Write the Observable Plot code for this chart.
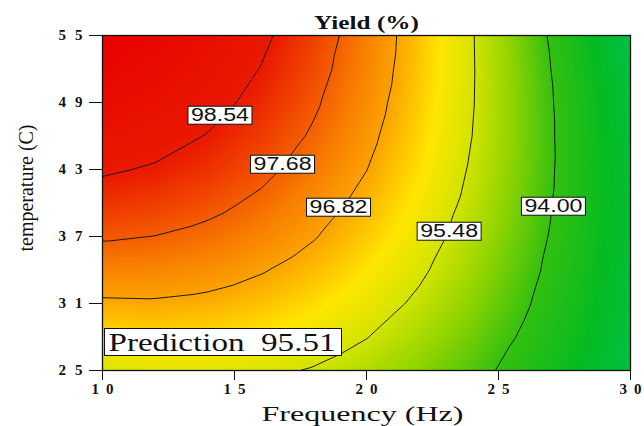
<!DOCTYPE html>
<html><head><meta charset="utf-8">
<script src="https://cdn.jsdelivr.net/npm/d3@7"></script>
<script src="https://cdn.jsdelivr.net/npm/@observablehq/plot@0.6"></script>
<style>
html,body{margin:0;padding:0;background:#fff;overflow:hidden;}
</style>
</head><body>
<script>
const title = "Yield (%)";
const xLabel = "Frequency (Hz)";
const yLabel = "temperature (C)";
const frequency = [10, 12, 14, 16, 18, 20, 22, 24, 26, 28, 30];
const temperature = [25, 28, 31, 34, 37, 40, 43, 46, 49, 52, 55];
const yieldT25 = [95.59, 95.70, 95.71, 95.62, 95.43, 95.14, 94.75, 94.26, 93.67, 92.98, 92.19];
const yieldT28 = [96.18, 96.24, 96.20, 96.07, 95.83, 95.50, 95.06, 94.53, 93.89, 93.16, 92.32];
const yieldT31 = [96.73, 96.75, 96.67, 96.49, 96.21, 95.83, 95.35, 94.77, 94.09, 93.31, 92.43];
const yieldT34 = [97.25, 97.22, 97.10, 96.87, 96.55, 96.12, 95.60, 94.97, 94.25, 93.42, 92.49];
const yieldT37 = [97.75, 97.67, 97.50, 97.23, 96.86, 96.39, 95.82, 95.15, 94.38, 93.51, 92.54];
const yieldT40 = [98.20, 98.08, 97.87, 97.55, 97.14, 96.62, 96.00, 95.29, 94.47, 93.56, 92.54];
const yieldT43 = [98.63, 98.47, 98.21, 97.85, 97.39, 96.83, 96.16, 95.40, 94.54, 93.58, 92.52];
const yieldT46 = [99.02, 98.81, 98.51, 98.10, 97.60, 96.99, 96.28, 95.48, 94.57, 93.56, 92.46];
const yieldT49 = [99.38, 99.13, 98.78, 98.33, 97.77, 97.12, 96.37, 95.52, 94.57, 93.52, 92.37];
const yieldT52 = [99.71, 99.41, 99.02, 98.52, 97.92, 97.23, 96.43, 95.53, 94.54, 93.44, 92.24];
const yieldT55 = [100.01, 99.67, 99.23, 98.69, 98.04, 97.30, 96.46, 95.52, 94.48, 93.33, 92.09];
const xTicks = [10, 15, 20, 25, 30];
const yTicks = [25, 31, 37, 43, 49, 55];
const contourLevels = [94.00, 95.48, 96.82, 97.68, 98.54];
const labelText = ["98.54", "97.68", "96.82", "95.48", "94.00"];
const labelFreq = [14.45, 16.82, 18.94, 23.13, 27.08];
const labelTemp = [47.84, 43.45, 39.60, 37.45, 39.69];
const prediction = 95.51;
const colorDomain = [92.1, 93.0, 94.0, 94.8, 95.5, 96.1, 96.8, 97.3, 97.7, 98.5, 100.1];
const colorRange = ["#00c046", "#06bb22", "#34c010", "#90d400", "#d4e400", "#ffe600", "#fca400", "#f88000", "#f45c00", "#ea1a00", "#e80000"];

const yieldRows = [yieldT25, yieldT28, yieldT31, yieldT34, yieldT37, yieldT40, yieldT43, yieldT46, yieldT49, yieldT52, yieldT55];
const grid = [];
temperature.forEach((t, i) => frequency.forEach((f, j) => grid.push({f, t, v: yieldRows[i][j]})));
const labels = labelText.map((s, i) => ({s, f: labelFreq[i], t: labelTemp[i]}));
const extent = {x1: frequency[0], x2: frequency[frequency.length - 1], y1: temperature[0], y2: temperature[temperature.length - 1]};
const predictionText = `Prediction  ${prediction.toFixed(2)}`;

const serif = "'Liberation Serif', 'Times New Roman', serif";
const chart = Plot.plot({
  width: 644, height: 426,
  marginLeft: 102, marginRight: 14, marginTop: 35, marginBottom: 56,
  style: {fontFamily: serif, fontSize: "15px", color: "#111", background: "#fff"},
  x: {domain: [10, 30]},
  y: {domain: [25, 55]},
  color: {type: "linear", domain: colorDomain, range: colorRange, interpolate: "rgb"},
  marks: [
    Plot.raster(grid, {x: "f", y: "t", fill: "v", interpolate: "barycentric", pixelSize: 1, ...extent}),
    Plot.contour(grid, {x: "f", y: "t", value: "v", interpolate: "barycentric", thresholds: contourLevels, pixelSize: 1, ...extent, fill: "none", stroke: "#1a1a1a", strokeWidth: 1}),
    Plot.frame({stroke: "#111", strokeWidth: 1.3}),
    Plot.axisX({ticks: xTicks, tickSize: 10, tickPadding: 3, label: null, fontWeight: "bold", fontSize: 15}),
    Plot.axisY({ticks: yTicks, tickSize: 13, tickPadding: 7, label: null, fontWeight: "bold", fontSize: 15}),
    Plot.text([xLabel], {frameAnchor: "bottom", lineAnchor: "middle", textAnchor: "middle", dx: -4, dy: 44, fontSize: 21}),
    Plot.text([yLabel], {frameAnchor: "left", lineAnchor: "middle", textAnchor: "middle", rotate: -90, dx: -77, dy: -15, fontSize: 22}),
    Plot.text([title], {frameAnchor: "top", lineAnchor: "middle", textAnchor: "middle", dy: -13, fontSize: 19, fontWeight: "bold"}),
    Plot.text(labels, {x: "f", y: "t", text: "s", fontFamily: "'Liberation Sans', Arial, sans-serif", fontSize: 18, fill: "#111"}),
    Plot.text([predictionText], {frameAnchor: "bottom-left", lineAnchor: "middle", textAnchor: "start", dx: 6, dy: -28, fontSize: 25, fill: "#111"})
  ]
});
document.body.appendChild(chart);

const allTexts = Array.from(chart.querySelectorAll("text"));
function byContent(list) { return allTexts.filter(t => list.includes(t.textContent.trim())); }
function stretch(texts, len, mode) {
  texts.forEach(t => {
    t.setAttribute("textLength", len);
    t.setAttribute("lengthAdjust", mode || "spacingAndGlyphs");
  });
}
stretch(Array.from(chart.querySelectorAll('g[aria-label="x-axis tick label"] text')), 22, "spacing");
stretch(Array.from(chart.querySelectorAll('g[aria-label="y-axis tick label"] text')), 24, "spacing");
stretch(byContent([title]), 105);
stretch(byContent([xLabel]), 202);
stretch(byContent([yLabel]), 127);
stretch(byContent([predictionText.trim()]), 227);
const contourTexts = byContent(labelText);
stretch(contourTexts, 58);

function box(texts, padL, padR, padT, padB) {
  texts.forEach(t => {
    const b = t.getBBox();
    const r = document.createElementNS("http://www.w3.org/2000/svg", "rect");
    r.setAttribute("x", b.x - padL);
    r.setAttribute("y", b.y - padT);
    r.setAttribute("width", b.width + padL + padR);
    r.setAttribute("height", b.height + padT + padB);
    r.setAttribute("fill", "#fff");
    r.setAttribute("stroke", "#111");
    r.setAttribute("stroke-width", 1);
    if (t.getAttribute("transform")) r.setAttribute("transform", t.getAttribute("transform"));
    t.parentNode.insertBefore(r, t);
  });
}
box(contourTexts, 3, 3, -1, -1);
box(byContent([predictionText.trim()]), 4, 6, 0, 0);
</script>
</body></html>
